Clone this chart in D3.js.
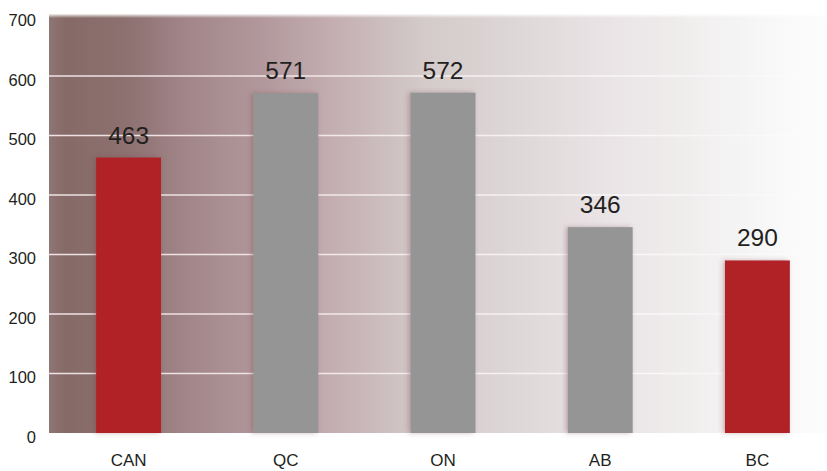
<!DOCTYPE html>
<html>
<head>
<meta charset="utf-8">
<script src="https://cdn.jsdelivr.net/npm/d3@7/dist/d3.min.js"></script>
<style>
  html, body { margin: 0; padding: 0; background: #ffffff; }
  svg { display: block; font-family: "Liberation Sans", Arial, Helvetica, sans-serif; }
</style>
</head>
<body>
<svg id="chart" width="827" height="471"></svg>
<script>
// Provinces and national average
const categories = ["CAN", "QC", "ON", "AB", "BC"];
const values = [463, 571, 572, 346, 290];
const highlighted = ["CAN", "BC"];
const yTicks = [0, 100, 200, 300, 400, 500, 600, 700];

const width = 827, height = 471;
const plot = { left: 49, right: 827, top: 14, bottom: 433 };

const svg = d3.select("#chart");
const defs = svg.append("defs");

// Horizontal wash behind the plot: dark mauve on the left fading to white
const bg = defs.append("linearGradient").attr("id", "bgGrad")
  .attr("x1", "0%").attr("x2", "100%").attr("y1", "0%").attr("y2", "0%");
[
  [0.00, "#8e7674"], [0.02, "#866a67"], [0.10, "#8d7170"],
  [0.18, "#a2868a"], [0.27, "#b1979b"], [0.37, "#c4afb2"],
  [0.48, "#d3cac9"], [0.58, "#dcd5d5"], [0.70, "#e8e2e4"],
  [0.82, "#f0eded"], [0.92, "#f7f7f7"], [1.00, "#fdfdfd"]
].forEach(([o, c]) => bg.append("stop").attr("offset", o).attr("stop-color", c));

// Soft top edge of the wash
const topFade = defs.append("linearGradient").attr("id", "topFade")
  .attr("x1", "0").attr("x2", "0").attr("y1", "0").attr("y2", "1");
topFade.append("stop").attr("offset", 0).attr("stop-color", "#fff").attr("stop-opacity", 0.9);
topFade.append("stop").attr("offset", 1).attr("stop-color", "#fff").attr("stop-opacity", 0);

// Faint shadow around the bars
const shadow = defs.append("filter").attr("id", "barShadow")
  .attr("x", "-30%").attr("y", "-10%").attr("width", "160%").attr("height", "120%");
shadow.append("feGaussianBlur").attr("in", "SourceAlpha").attr("stdDeviation", 2.5).attr("result", "blur");
shadow.append("feOffset").attr("in", "blur").attr("dx", -2).attr("dy", 0).attr("result", "off");
shadow.append("feFlood").attr("flood-color", "#7a3c48").attr("flood-opacity", 0.35);
shadow.append("feComposite").attr("in2", "off").attr("operator", "in").attr("result", "sh");
const merge = shadow.append("feMerge");
merge.append("feMergeNode").attr("in", "sh");
merge.append("feMergeNode").attr("in", "SourceGraphic");

const x = d3.scaleBand()
  .domain(categories)
  .range([50, 836])
  .paddingInner(0.587)
  .paddingOuter(0.2935);

const y = d3.scaleLinear()
  .domain([0, 700])
  .range([plot.bottom, 16.5]);

// Background
svg.append("rect")
  .attr("x", plot.left).attr("y", plot.top)
  .attr("width", plot.right - plot.left).attr("height", plot.bottom - plot.top)
  .attr("fill", "url(#bgGrad)");
svg.append("rect")
  .attr("x", plot.left).attr("y", plot.top)
  .attr("width", plot.right - plot.left).attr("height", 4)
  .attr("fill", "url(#topFade)");

// Gridlines
const gridFade = defs.append("linearGradient").attr("id", "gridGrad")
  .attr("gradientUnits", "userSpaceOnUse")
  .attr("x1", plot.left).attr("x2", plot.right).attr("y1", 0).attr("y2", 0);
gridFade.append("stop").attr("offset", 0).attr("stop-color", "#fbeff0").attr("stop-opacity", 0.9);
gridFade.append("stop").attr("offset", 0.75).attr("stop-color", "#ffffff").attr("stop-opacity", 0.7);
gridFade.append("stop").attr("offset", 1).attr("stop-color", "#ffffff").attr("stop-opacity", 0.2);

svg.append("g")
  .selectAll("line")
  .data(yTicks.filter(t => t > 0 && t < 700))
  .join("line")
  .attr("x1", plot.left).attr("x2", plot.right)
  .attr("y1", d => y(d)).attr("y2", d => y(d))
  .attr("stroke", "url(#gridGrad)")
  .attr("stroke-width", 1.6);

// Y axis labels
const yAxis = d3.axisLeft(y).tickValues(yTicks).tickSize(0).tickPadding(0).tickFormat(d3.format("d"));
const yG = svg.append("g").attr("transform", "translate(36,0)").call(yAxis);
yG.select(".domain").remove();
yG.selectAll("text")
  .attr("font-size", 16.5)
  .attr("fill", "#231f20")
  .attr("font-family", "Liberation Sans, Arial, sans-serif")
  .attr("dy", "0.55em");

// Bars
const data = categories.map((c, i) => ({ cat: c, value: values[i] }));
svg.append("g")
  .selectAll("rect")
  .data(data)
  .join("rect")
  .attr("x", d => x(d.cat))
  .attr("y", d => y(d.value))
  .attr("width", x.bandwidth())
  .attr("height", d => y(0) - y(d.value))
  .attr("fill", d => highlighted.includes(d.cat) ? "#b02428" : "#959595")
  .attr("filter", "url(#barShadow)");

// Value labels
svg.append("g")
  .selectAll("text")
  .data(data)
  .join("text")
  .attr("x", d => x(d.cat) + x.bandwidth() / 2)
  .attr("y", d => y(d.value) - 14)
  .attr("text-anchor", "middle")
  .attr("font-size", 24.5)
  .attr("fill", "#231f20")
  .text(d => d.value);

// X axis labels
const xAxis = d3.axisBottom(x).tickSize(0).tickPadding(0);
const xG = svg.append("g").attr("transform", "translate(0,454)").call(xAxis);
xG.select(".domain").remove();
xG.selectAll("text")
  .attr("font-size", 17)
  .attr("fill", "#231f20")
  .attr("font-family", "Liberation Sans, Arial, sans-serif")
  .attr("dy", "0.72em");
</script>
</body>
</html>
